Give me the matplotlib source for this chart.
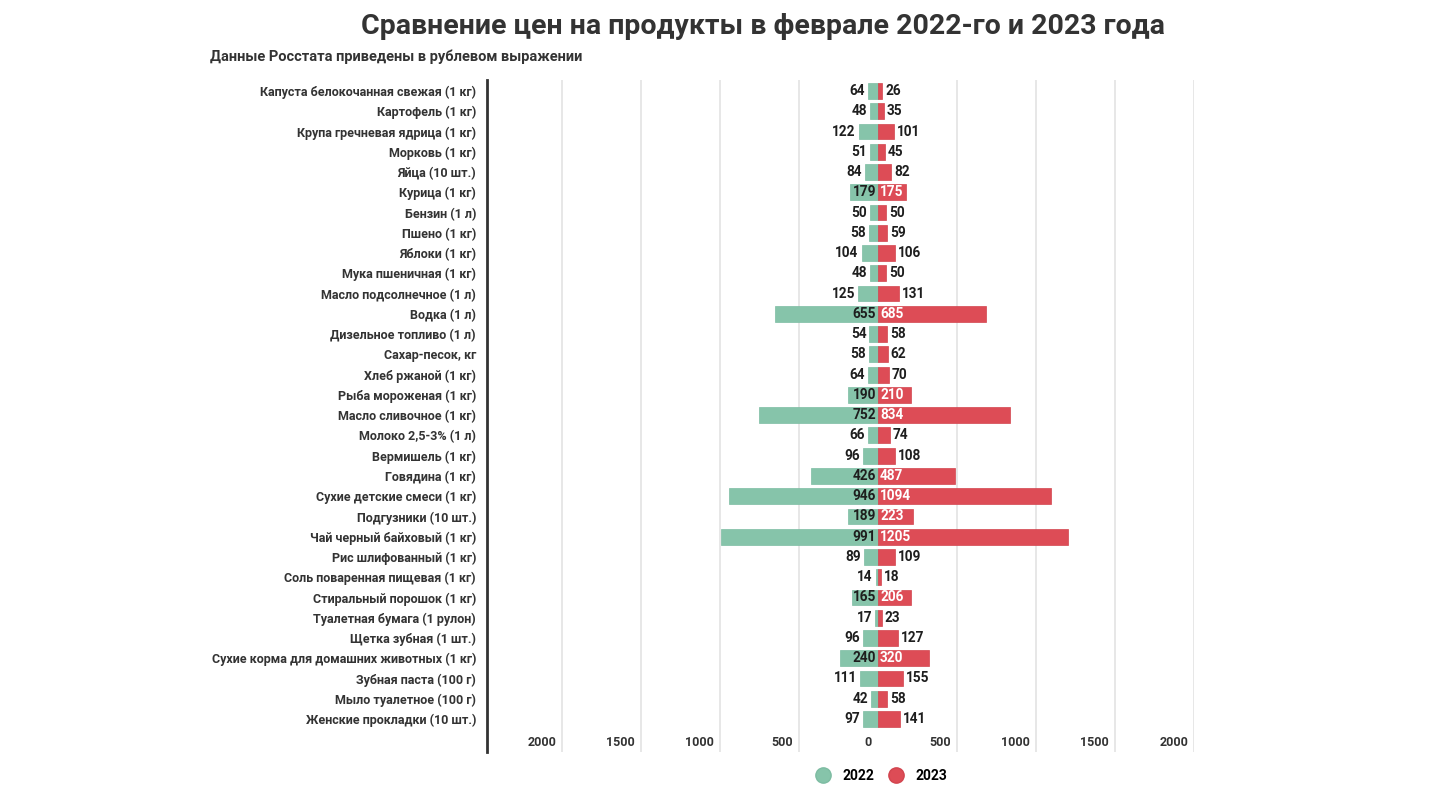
import matplotlib
matplotlib.use("Agg")
import matplotlib.pyplot as plt
from matplotlib.lines import Line2D
import matplotlib.transforms as mtransforms

plt.rcParams['font.family'] = ['Roboto', 'DejaVu Sans']

# данные Росстата, февраль 2022 и 2023
products = [
    "Капуста белокочанная свежая (1 кг)", "Картофель (1 кг)", "Крупа гречневая ядрица (1 кг)",
    "Морковь (1 кг)", "Яйца (10 шт.)", "Курица (1 кг)", "Бензин (1 л)", "Пшено (1 кг)",
    "Яблоки (1 кг)", "Мука пшеничная (1 кг)", "Масло подсолнечное (1 л)", "Водка (1 л)",
    "Дизельное топливо (1 л)", "Сахар-песок, кг", "Хлеб ржаной (1 кг)", "Рыба мороженая (1 кг)",
    "Масло сливочное (1 кг)", "Молоко 2,5-3% (1 л)", "Вермишель (1 кг)", "Говядина (1 кг)",
    "Сухие детские смеси (1 кг)", "Подгузники (10 шт.)", "Чай черный байховый (1 кг)",
    "Рис шлифованный (1 кг)", "Соль поваренная пищевая (1 кг)", "Стиральный порошок (1 кг)",
    "Туалетная бумага (1 рулон)", "Щетка зубная (1 шт.)",
    "Сухие корма для домашних животных (1 кг)", "Зубная паста (100 г)",
    "Мыло туалетное (100 г)", "Женские прокладки (10 шт.)",
]
prices_2022 = [64, 48, 122, 51, 84, 179, 50, 58, 104, 48, 125, 655, 54, 58, 64, 190,
               752, 66, 96, 426, 946, 189, 991, 89, 14, 165, 17, 96, 240, 111, 42, 97]
prices_2023 = [26, 35, 101, 45, 82, 175, 50, 59, 106, 50, 131, 685, 58, 62, 70, 210,
               834, 74, 108, 487, 1094, 223, 1205, 109, 18, 206, 23, 127, 320, 155, 58, 141]
tick_values = [-2000, -1500, -1000, -500, 0, 500, 1000, 1500, 2000]

green = "#86c4aa"
red = "#dd4c56"
W, H = 1440, 805

fig = plt.figure(figsize=(W / 100, H / 100), dpi=100, facecolor="white")
ax = fig.add_axes([487 / W, 1 - 752 / H, (1194 - 487) / W, (752 - 80) / H])

n = len(products)
ys = list(range(n))
ax.barh(ys, [-v for v in prices_2022], height=0.78, color=green, edgecolor="#7dbca2", linewidth=0.5, zorder=3)
ax.barh(ys, prices_2023, height=0.78, color=red, edgecolor="#d2444e", linewidth=0.5, zorder=3)

spacing = 628 / (n - 1)
ax.set_ylim(n - 1 + 33 / spacing, -11 / spacing)
ax.set_xlim(-2475, 2000)

# подписи значений: внутри столбца, если помещаются, иначе снаружи
def shift(pixels):
    return mtransforms.ScaledTranslation(pixels / 100, 0, fig.dpi_scale_trans)

for y, a, b in zip(ys, prices_2022, prices_2023):
    if a > 160:
        ax.text(0, y, str(a), ha="right", va="center", fontsize=9.8, fontweight="bold",
                color="#1e1e1e", transform=ax.transData + shift(-2), zorder=4)
    else:
        ax.text(-a, y, str(a), ha="right", va="center", fontsize=9.8, fontweight="bold",
                color="#1e1e1e", transform=ax.transData + shift(-3), zorder=4)
    if b > 160:
        ax.text(0, y, str(b), ha="left", va="center", fontsize=9.8, fontweight="bold",
                color="white", transform=ax.transData + shift(2), zorder=4)
    else:
        ax.text(b, y, str(b), ha="left", va="center", fontsize=9.8, fontweight="bold",
                color="#1e1e1e", transform=ax.transData + shift(3), zorder=4)

# сетка и подписи оси x внутри графика
ax.set_xticks([t for t in tick_values if t != 0])
ax.tick_params(axis="x", length=0, labelbottom=False)
ax.grid(axis="x", color="#e3e3e3", linewidth=1.2, zorder=0)
trans = mtransforms.blended_transform_factory(ax.transData, ax.transAxes)
for t in tick_values:
    ax.text(t, 10 / 672, str(abs(t)), ha="right", va="center", fontsize=9, fontweight="bold",
            color="#333333", transform=trans + shift(-6))

ax.set_yticks(ys)
ax.set_yticklabels(products, fontsize=9, fontweight="bold", color="#333333")
ax.tick_params(axis="y", length=0, pad=8)

for s in ["top", "right", "bottom"]:
    ax.spines[s].set_visible(False)
ax.spines["left"].set_linewidth(2)
ax.spines["left"].set_color("#333333")

fig.text(763 / W, 1 - 26 / H, "Сравнение цен на продукты в феврале 2022-го и 2023 года",
         ha="center", va="center", fontsize=20.5, fontweight="bold", color="#333333")
fig.text(210 / W, 1 - 57 / H, "Данные Росстата приведены в рублевом выражении",
         ha="left", va="center", fontsize=10.5, fontweight="bold", color="#333333")

handles = [
    Line2D([], [], marker="o", linestyle="", markersize=11, markerfacecolor=green, markeredgecolor="#7dbca2"),
    Line2D([], [], marker="o", linestyle="", markersize=11, markerfacecolor=red, markeredgecolor="#d2444e"),
]
fig.legend(handles, ["2022", "2023"], loc="center", bbox_to_anchor=(878 / W, 1 - 776 / H), ncol=2,
           frameon=False, prop={"weight": "bold", "size": 10}, handletextpad=0.4, columnspacing=0.6)

fig.savefig("out.png", dpi=100, facecolor="white")
